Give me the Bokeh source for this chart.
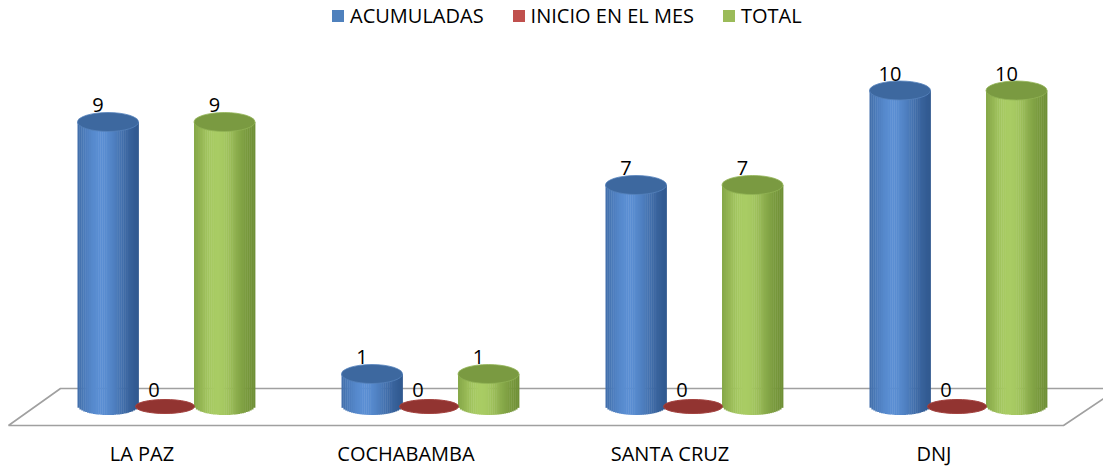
import numpy as np
from bokeh.plotting import figure
from bokeh.models import Range1d, Legend, LegendItem, ColumnDataSource
from bokeh.core.properties import value
from bokeh.embed import file_html
from bokeh.resources import INLINE

# ---------------- data ----------------
categories = ["LA PAZ", "COCHABAMBA", "SANTA CRUZ", "DNJ"]
series_names = ["ACUMULADAS", "INICIO EN EL MES", "TOTAL"]
acumuladas = [9, 1, 7, 10]
inicio_mes = [0, 0, 0, 0]
total = [9, 1, 7, 10]

# ---------------- geometry / style ----------------
W, H = 1103, 466
PX_X = 264.0      # pixels per category step
PX_Y = 31.5       # pixels per value unit
X0 = 164.5        # frame px of first category centre
BASE = 405.0      # frame px (from top) of value 0
FONT = value("Open Sans")
FS = "20px"

def dx(px):
    return px / PX_X

def dy(px):
    return px / PX_Y

def fx(px):      # frame px -> data x
    return (px - X0) / PX_X

def fy(px):      # frame px (from top) -> data y
    return (BASE - px) / PX_Y

p = figure(width=W, height=H, output_backend="svg", toolbar_location=None,
           x_range=Range1d(fx(0), fx(W)), y_range=Range1d(fy(H), fy(0)),
           min_border=0)
p.axis.visible = False
p.grid.visible = False
p.outline_line_color = None
p.background_fill_color = "white"
p.border_fill_color = "white"

# floor (parallelogram)
floor_x = [fx(60), fx(1118), fx(1063), fx(8)]
floor_y = [fy(388), fy(388), fy(425), fy(425)]
p.patch(floor_x, floor_y, fill_color="white", line_color="#a0a0a0", line_width=1.6)

cat_x = np.arange(len(categories), dtype=float)
CYL_W = 61.0
ELL_H = 19.0


def hexrgb(h):
    h = h.lstrip("#")
    return np.array([int(h[i:i + 2], 16) for i in (0, 2, 4)], dtype=float)


def mix(c1, c2, t):
    c = hexrgb(c1) * (1 - t) + hexrgb(c2) * t
    return "#%02x%02x%02x" % tuple(int(round(v)) for v in c)


def cylinders(values, off_px, dark, light, top_col, top_line):
    N = 32
    edges = np.linspace(-1, 1, N + 1)
    L, R, B, T, C = [], [], [], [], []
    for cx, v in zip(cat_x, values):
        c = cx + dx(off_px)
        for i in range(N):
            ul, ur = edges[i], edges[i + 1]
            um = 0.5 * (ul + ur)
            g = np.exp(-((um + 0.25) / 0.85) ** 2)
            L.append(c + ul * dx(CYL_W) / 2)
            R.append(c + ur * dx(CYL_W) / 2 + dx(0.4))
            B.append(-dy(ELL_H) / 2 * np.sqrt(max(0.0, 1 - um ** 2)))
            T.append(v)
            C.append(mix(dark, light, g))
    src = ColumnDataSource(dict(left=L, right=R, bottom=B, top=T, color=C))
    p.quad(left="left", right="right", bottom="bottom", top="top",
           fill_color="color", line_color=None, source=src)
    tops = ColumnDataSource(dict(x=[c + dx(off_px) for c in cat_x], y=list(values)))
    p.ellipse(x="x", y="y", width=dx(CYL_W), height=dy(ELL_H), source=tops,
              fill_color=top_col, line_color=top_line, line_width=0.8)
    lab = ColumnDataSource(dict(x=[c + dx(off_px - 10) for c in cat_x],
                                y=[v + dy(17) for v in values],
                                t=[str(v) for v in values]))
    p.text(x="x", y="y", text="t", source=lab, text_font=FONT, text_font_size=FS,
           text_align="center", text_baseline="middle", text_color="#000000")


cylinders(acumuladas, -57, "#2b5286", "#5a8ed3", "#3d689f", "#5683bd")
cylinders(total, 59.5, "#67872f", "#a9cc64", "#7a9a41", "#92b456")

# red discs (value 0)
red_src = ColumnDataSource(dict(x=list(cat_x), y=[v + dy(-1) for v in inicio_mes]))
p.ellipse(x="x", y="y", width=dx(59), height=dy(14), source=red_src,
          fill_color="#923431", line_color="#a3423f", line_width=1)
red_lab = ColumnDataSource(dict(x=[c + dx(-11) for c in cat_x],
                                y=[v + dy(16) for v in inicio_mes],
                                t=[str(v) for v in inicio_mes]))
p.text(x="x", y="y", text="t", source=red_lab, text_font=FONT, text_font_size=FS,
       text_align="center", text_baseline="middle", text_color="#000000")

# category labels
cat_src = ColumnDataSource(dict(x=[c + dx(-23) for c in cat_x],
                                y=[fy(453)] * len(categories), t=categories))
p.text(x="x", y="y", text="t", source=cat_src, text_font=FONT, text_font_size=FS,
       text_align="center", text_baseline="middle", text_color="#000000")

# legend
colors = ["#4f81bd", "#c0504d", "#9bbb59"]
items = []
for name, col in zip(series_names, colors):
    r = p.quad(left=[np.nan], right=[np.nan], bottom=[np.nan], top=[np.nan],
               fill_color=col, line_color=None)
    items.append(LegendItem(label=name, renderers=[r]))
legend = Legend(items=items, orientation="horizontal", location=(330, 437),
                glyph_width=15, glyph_height=15, label_standoff=5, spacing=27,
                padding=0, margin=0, border_line_color=None,
                background_fill_alpha=0, label_text_font="Open Sans",
                label_text_font_size=FS, label_text_color="#000000")
p.add_layout(legend)

open("out.html", "w").write(file_html(p, INLINE))
